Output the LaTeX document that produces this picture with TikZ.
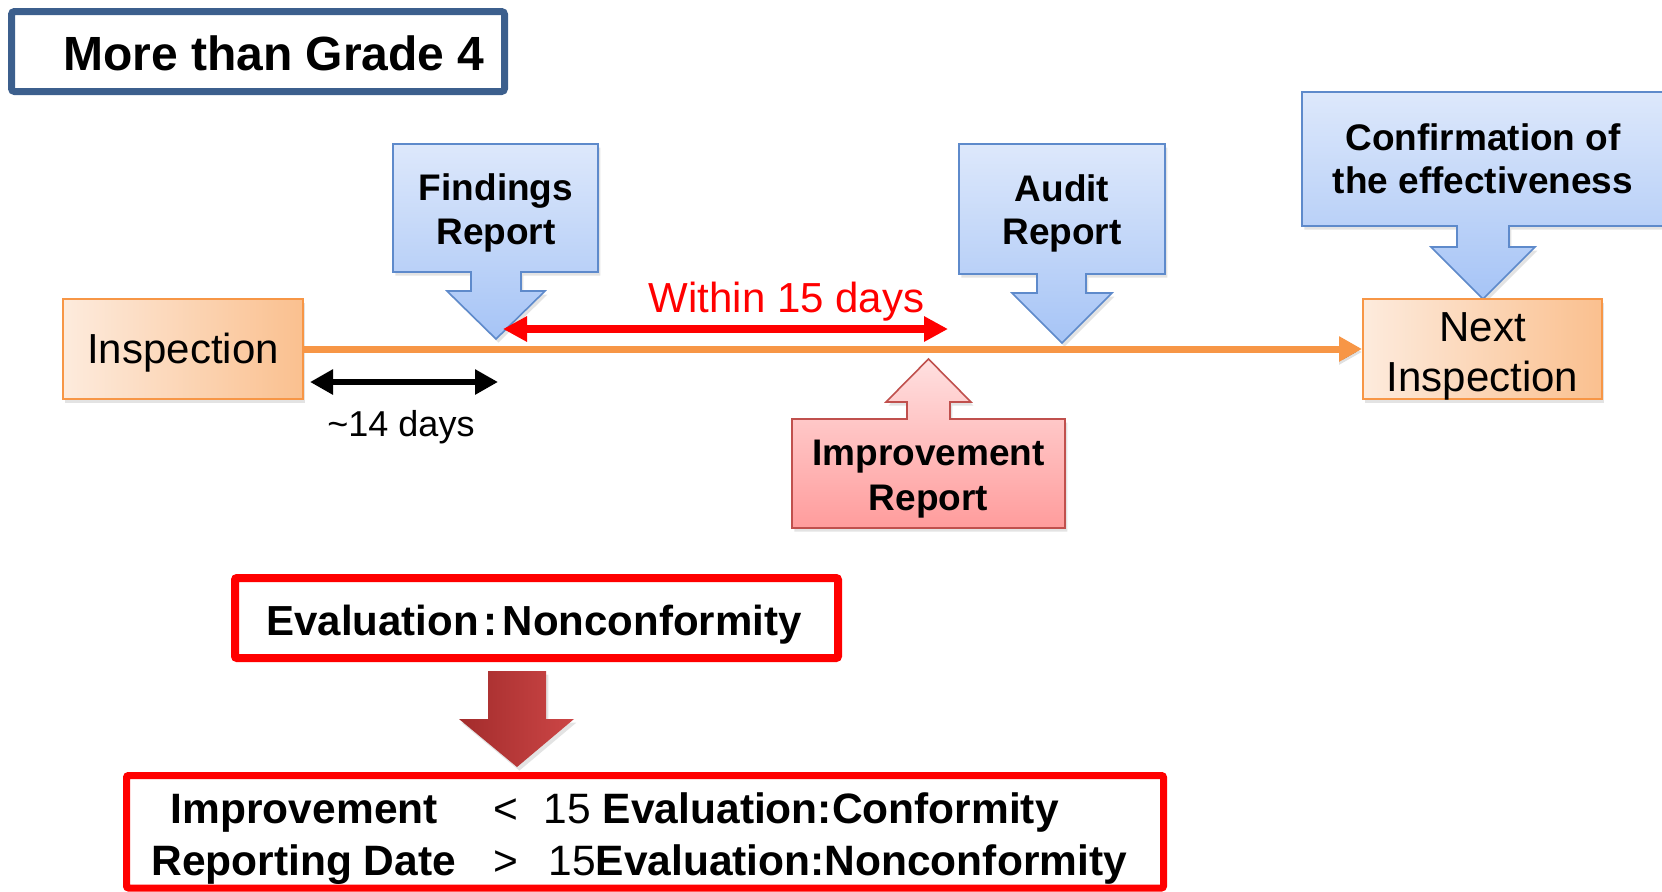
\documentclass[tikz,border=0pt]{standalone}
\usepackage{fontspec}
\setmainfont{Liberation Sans}
\usetikzlibrary{arrows.meta,shadows}

\definecolor{titleblue}{HTML}{3C5F8D}
\definecolor{tlorange}{HTML}{F79646}
\definecolor{orangeL}{HTML}{FDEBDD}
\definecolor{orangeR}{HTML}{FAC08F}
\definecolor{blueT}{HTML}{DDE8FB}
\definecolor{blueB}{HTML}{A6C4F6}
\definecolor{blueD}{HTML}{5E8ACB}
\definecolor{pinkT}{HTML}{FFE0E0}
\definecolor{pinkB}{HTML}{FF9C9C}
\definecolor{pinkD}{HTML}{C0504D}
\definecolor{darkL}{HTML}{A32C2C}
\definecolor{darkR}{HTML}{CC4646}
\definecolor{brightred}{HTML}{FF0000}

\newcommand\fsz[1]{\fontsize{#1}{#1}\selectfont}

\begin{document}
\begin{tikzpicture}[x=0.5pt,y=-0.5pt,
  softshadow/.style={drop shadow={opacity=0.22, shadow xshift=1.2pt, shadow yshift=-1.8pt}},
  txt/.style={inner sep=0pt, anchor=base},
  ltxt/.style={inner sep=0pt, anchor=base west},
  calltext/.style={txt, font=\fsz{18.5pt}\bfseries},
  bluecall/.style={draw=blueD, line width=0.8pt, top color=blueT, bottom color=blueB, softshadow},
  pinkcall/.style={draw=pinkD, line width=0.8pt, top color=pinkT, bottom color=pinkB, softshadow},
  orangebox/.style={draw=tlorange, line width=1pt, left color=orangeL, right color=orangeR,
    inner sep=0pt, minimum height=50pt, softshadow},
  redframe/.style={draw=brightred, rounded corners=1pt, inner sep=0pt},
  timeline/.style={draw=tlorange, line width=3.5pt, -{Triangle[length=11.5pt,width=12pt]},
    preaction={draw=black, draw opacity=0.12, transform canvas={yshift=-1.5pt}}},
  spanred/.style={draw=brightred, line width=4pt,
    {Triangle[length=12pt,width=12pt]}-{Triangle[length=12pt,width=12pt]}},
  spanblack/.style={draw=black, line width=3.25pt,
    {Triangle[length=11.5pt,width=12pt]}-{Triangle[length=11.5pt,width=12pt]}}
]
\useasboundingbox (0,0) rectangle (1662,891);

% heading
\node[draw=titleblue, line width=3.5pt, rounded corners=1.5pt, inner sep=0pt,
  minimum width=246.5pt, minimum height=40pt] (titlebox) at (258,51.5) {};
\node[txt, font=\fsz{24pt}\bfseries] (title) at (274,70) {More than Grade 4};

% downward callouts
\path[bluecall] (393,144) -- (598,144) -- (598,272) -- (521,272) -- (521,291) -- (545,291)
  -- (496,339) -- (447,291) -- (471,291) -- (471,272) -- (393,272) -- cycle;
\node[calltext] (find1) at (496,200) {Findings};
\node[calltext] (find2) at (496,244) {Report};

\path[bluecall] (959,144) -- (1165,144) -- (1165,274) -- (1086,274) -- (1086,293) -- (1112,293)
  -- (1062,343) -- (1012,293) -- (1037,293) -- (1037,274) -- (959,274) -- cycle;
\node[calltext] (aud1) at (1062,201) {Audit};
\node[calltext] (aud2) at (1062,244) {Report};

\path[bluecall] (1302,92) -- (1666,92) -- (1666,226) -- (1509,226) -- (1509,247) -- (1535,247)
  -- (1483,299) -- (1431,247) -- (1457,247) -- (1457,226) -- (1302,226) -- cycle;
\node[calltext] (conf1) at (1483,150) {Confirmation of};
\node[calltext] (conf2) at (1483,193) {the effectiveness};

% upward callout
\path[pinkcall] (792,419) -- (907,419) -- (907,402) -- (886,402) -- (928.5,359) -- (971,402)
  -- (950,402) -- (950,419) -- (1065,419) -- (1065,528) -- (792,528) -- cycle;
\node[calltext] (imp1) at (928.5,465) {Improvement};
\node[calltext] (imp2) at (928.5,510) {Report};

% inspections and the time line
\node[orangebox, minimum width=120pt] (insp) at (183,349) {};
\node[txt, font=\fsz{21pt}] (insptxt) at (183,363) {Inspection};
\node[orangebox, minimum width=119.5pt] (next) at (1482.5,349) {};
\node[txt, font=\fsz{21pt}] (next1) at (1482.5,341) {Next};
\node[txt, font=\fsz{21pt}] (next2) at (1482.5,391) {Inspection};

\draw[timeline] (insp.east) -- (next.west);

% spans
\coordinate (wl) at (503,329);
\coordinate (wr) at (948,329);
\draw[spanred] (wl) -- (wr);
\node[txt, font=\fsz{21pt}, text=brightred] (within) at (786.5,312) {Within 15 days};

\coordinate (dl) at (310,382);
\coordinate (dr) at (498,382);
\draw[spanblack] (dl) -- (dr);
\node[txt, font=\fsz{18pt}] (days) at (401,436) {\textasciitilde14 days};

% evaluation
\node[redframe, line width=4pt, minimum width=301.5pt, minimum height=40pt] (evalbox) at (536.5,618) {};
\node[ltxt, font=\fsz{21pt}\bfseries] (evaltxt) at (266,635) {Evaluation\kern2.5pt:\kern2.5pt Nonconformity};

\path[left color=darkL, right color=darkR, softshadow]
  (488,671) -- (546,671) -- (546,719) -- (574,719) -- (517,767) -- (459,719) -- (488,719) -- cycle;

\node[redframe, line width=3.5pt, minimum width=518.5pt, minimum height=56.25pt] (rulebox) at (645,831.75) {};
\node[ltxt, font=\fsz{21.25pt}\bfseries] (rule1a) at (170.5,823) {Improvement};
\node[ltxt, font=\fsz{21.25pt}\bfseries] (rule2a) at (151,875) {Reporting Date};
\node[ltxt, font=\fsz{21.25pt}] (rule1b) at (493.5,823) {<};
\node[ltxt, font=\fsz{21.25pt}] (rule2b) at (493.5,875) {>};
\node[ltxt, font=\fsz{21.25pt}] (rule1c) at (543.5,823) {15 \bfseries Evaluation:Conformity};
\node[ltxt, font=\fsz{21.25pt}] (rule2c) at (548,875) {15\bfseries Evaluation:Nonconformity};
\end{tikzpicture}
\end{document}
